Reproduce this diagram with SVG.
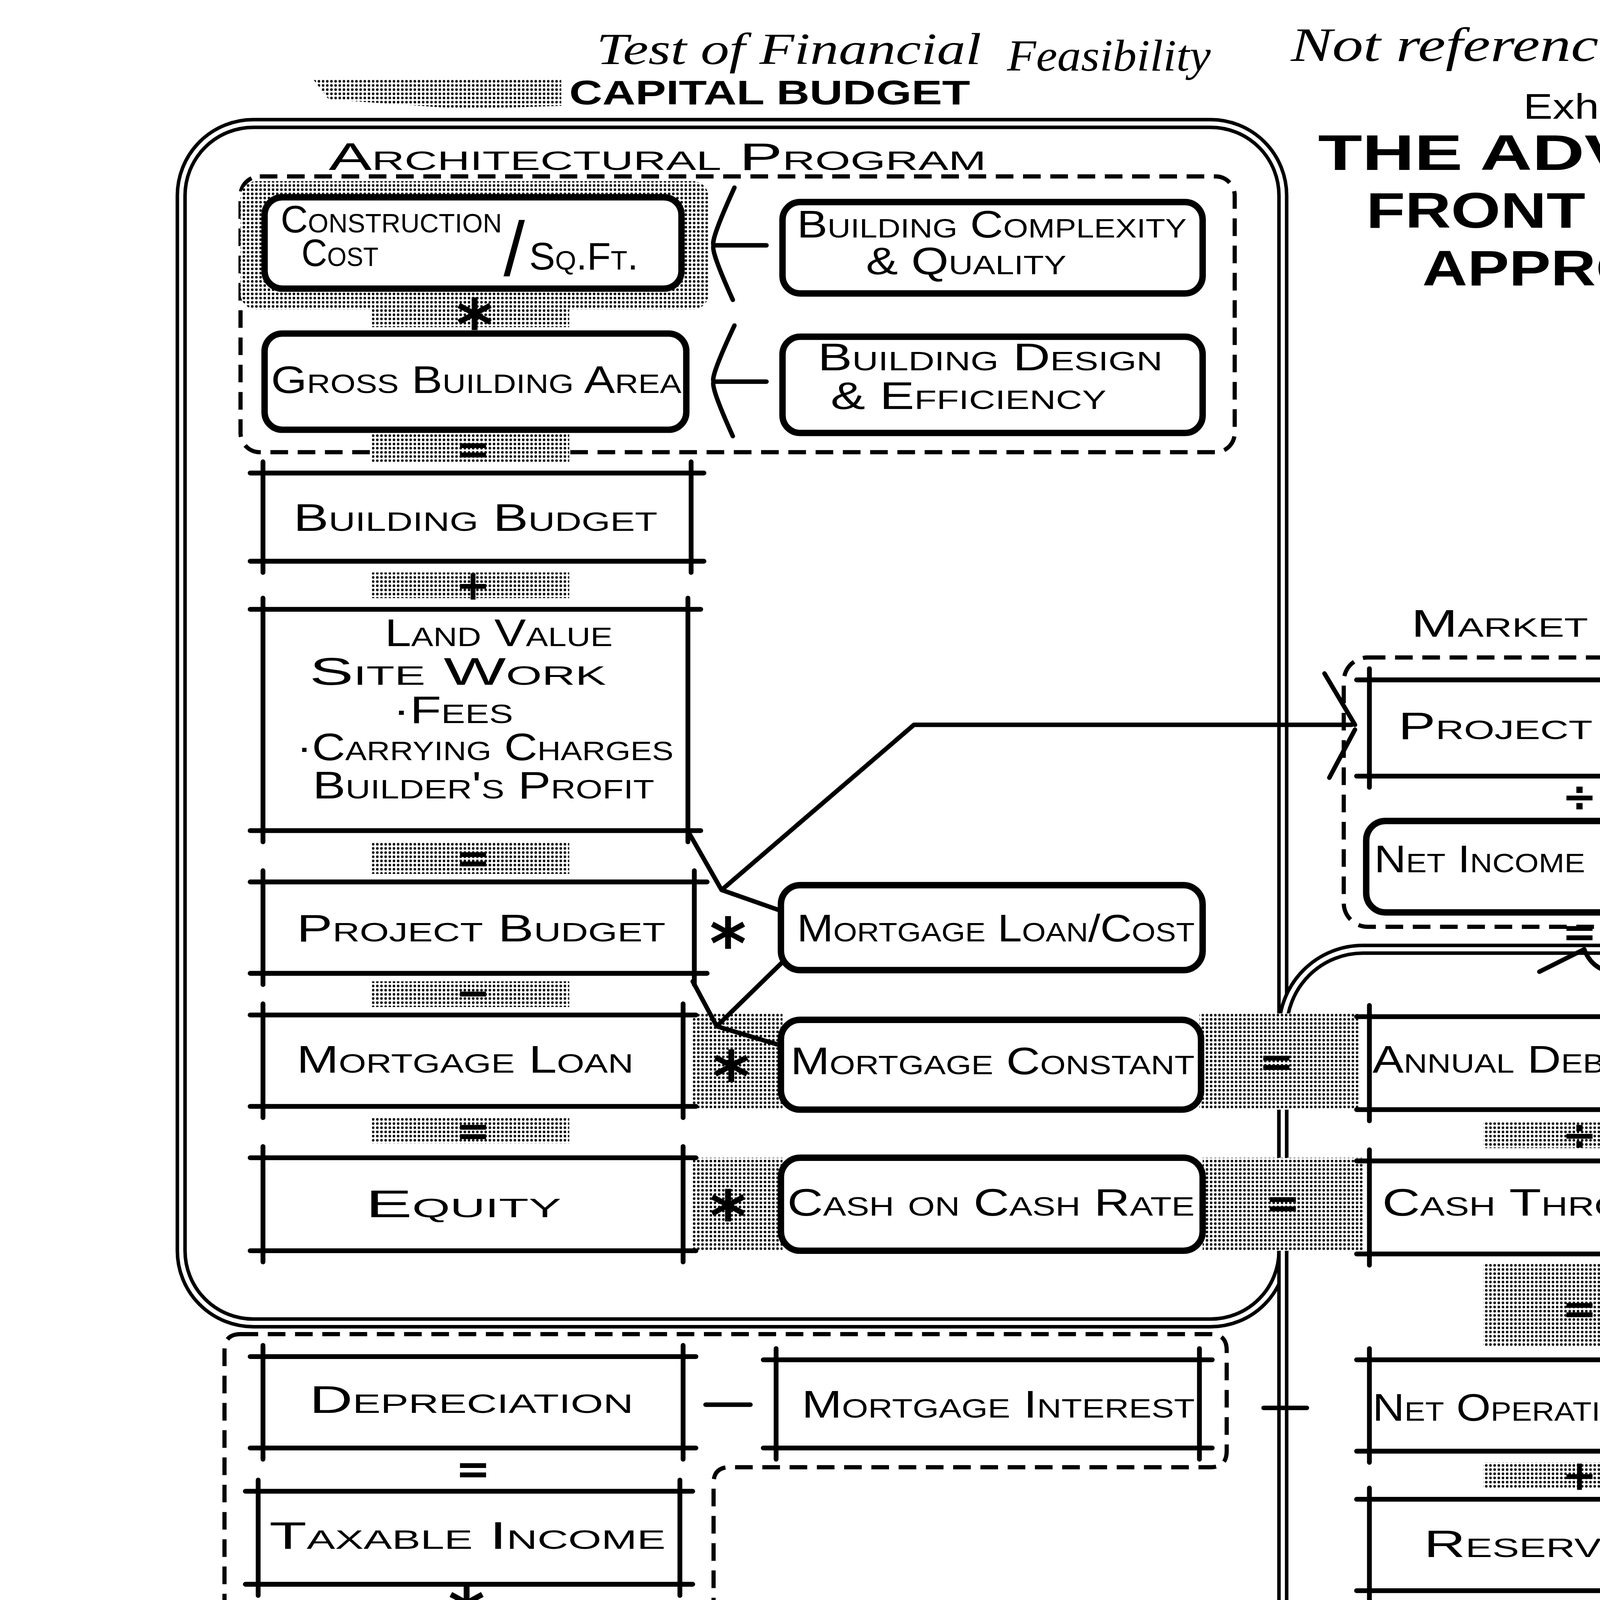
<svg xmlns="http://www.w3.org/2000/svg" width="4992" height="6467" viewBox="0 0 4992 6467">
<defs>
<pattern id="tone" width="2.6" height="2.6" patternUnits="userSpaceOnUse">
<rect width="2.6" height="2.6" fill="#fff"/>
<circle cx="1.3" cy="1.3" r="0.8" fill="#000"/>
</pattern>
<style>
.tx{font-family:"Liberation Sans",Arial,sans-serif;font-variant:small-caps;font-size:24px;fill:#000}
.hw{font-family:"Liberation Serif","Times New Roman",serif;font-style:italic;fill:#000}
.bd{font-family:"Liberation Sans",Arial,sans-serif;font-weight:bold;fill:#000}
.op{font-family:"DejaVu Sans",sans-serif;font-size:26px;font-weight:bold;fill:#000;text-anchor:middle}
.ast{font-family:"DejaVu Sans",sans-serif;font-size:44px;font-weight:bold;fill:#000;text-anchor:middle}
.rb{fill:#fff;stroke:#000;stroke-width:4}
.rt{fill:#fff;stroke:#000;stroke-width:3}
.dl{fill:none;stroke:#000;stroke-width:3;stroke-linecap:round}
.ln{fill:none;stroke:#000;stroke-width:2.8;stroke-linecap:round;stroke-linejoin:round}
.dash{fill:none;stroke:#000;stroke-width:2.6;stroke-dasharray:11 6}
.o1{fill:none;stroke:#000;stroke-width:7}
.o2{fill:none;stroke:#fff;stroke-width:2.6}
.tone{fill:url(#tone)}
</style>
</defs>
<rect width="4992" height="6467" fill="#fff"/>
<g transform="scale(4.105)">
<g id="frames">
<rect class="o1" x="113" y="77" width="687" height="748" rx="45"/>
<rect class="o2" x="113" y="77" width="687" height="748" rx="45"/>
<rect class="o1" x="800" y="592" width="363" height="905" rx="50"/>
<rect class="o2" x="800" y="592" width="363" height="905" rx="50"/>
<rect class="dash" x="150" y="110" width="620" height="172" rx="12"/>
<rect class="dash" x="838" y="410" width="297" height="168" rx="15"/>
<rect class="dash" x="835" y="1292" width="297" height="170" rx="15"/>
<path class="dash" d="M150,832 H755 Q765,832 765,842 V905 Q765,915 755,915 H455 Q445,915 445,925 V1325 Q445,1337 433,1337 H150 Q140,1337 140,1325 V842 Q140,832 150,832 Z"/>
</g>
<g id="patches">
<polygon class="tone" points="195,49 350,49 350,66 290,68 205,62"/>
<rect class="tone" x="150" y="113" width="292" height="80" rx="10"/>
<rect class="tone" x="232" y="186" width="123" height="18"/>
<rect class="tone" x="232" y="270" width="123" height="18"/>
<rect class="tone" x="232" y="357" width="123" height="16"/>
<rect class="tone" x="232" y="525" width="123" height="20"/>
<rect class="tone" x="232" y="612" width="123" height="16"/>
<rect class="tone" x="232" y="697" width="123" height="16"/>
<rect class="tone" x="432" y="632" width="56" height="60"/>
<rect class="tone" x="748" y="632" width="100" height="60"/>
<rect class="tone" x="432" y="722" width="56" height="58"/>
<rect class="tone" x="750" y="722" width="100" height="58"/>
<rect class="tone" x="925" y="700" width="115" height="16"/>
<rect class="tone" x="925" y="788" width="115" height="52"/>
<rect class="tone" x="925" y="912" width="115" height="16"/>
<rect class="tone" x="925" y="1000" width="115" height="15"/>
<rect class="tone" x="925" y="1080" width="115" height="15"/>
<rect class="tone" x="925" y="1164" width="115" height="16"/>
<rect class="tone" x="925" y="1252" width="115" height="38"/>
<rect class="tone" x="935" y="1367" width="120" height="13"/>
<rect class="tone" x="838" y="1380" width="292" height="82" rx="10"/>
</g>
<g id="connectors">
<path class="ln" d="M458,117 Q443,150 445,153 Q443,156 457,187 M446,153 H478"/>
<path class="ln" d="M458,203 Q443,235 445,238 Q443,241 457,272 M446,238 H478"/>
<path class="ln" d="M430,520 L450,555 L487,568 M450,555 L570,452 H843"/>
<path class="ln" d="M826,420 L845,452 M829,485 L845,455"/>
<path class="ln" d="M432,612 L447,640 L487,652 M490,598 L447,640"/>
<path class="ln" d="M440,876 H468"/>
<path class="ln" d="M788,878 H815"/>
<path class="ln" d="M960,606 L988,592 Q993,606 1010,607 L1118,610 Q1150,614 1150,645 V855 Q1148,862 1136,872 L1130,880 L1144,900"/>
</g>
<g id="headings">
<text class="hw" x="372" y="40" font-size="28" textLength="240" lengthAdjust="spacingAndGlyphs">Test of Financial</text>
<text class="hw" x="628" y="44" font-size="28" textLength="127" lengthAdjust="spacingAndGlyphs">Feasibility</text>
<text class="hw" x="805" y="38" font-size="30" textLength="355" lengthAdjust="spacingAndGlyphs">Not referenced directly</text>
<text class="hw" x="1070" y="56" font-size="18" textLength="125" lengthAdjust="spacingAndGlyphs">in lecture.</text>
<text class="hw" x="1127" y="76" font-size="17" textLength="58" lengthAdjust="spacingAndGlyphs">notes</text>
<text class="bd" x="355" y="65" font-size="21" textLength="250" lengthAdjust="spacingAndGlyphs">CAPITAL BUDGET</text>
<text x="950" y="74" font-family="Liberation Sans Narrow,Liberation Sans,sans-serif" font-size="22" textLength="105" lengthAdjust="spacingAndGlyphs">Exhibit 1</text>
<text class="bd" x="822" y="106" font-size="31" textLength="353" lengthAdjust="spacingAndGlyphs">THE  ADVANCED</text>
<text class="bd" x="852" y="142" font-size="31" textLength="291" lengthAdjust="spacingAndGlyphs">FRONT - DOOR</text>
<text class="bd" x="887" y="178" font-size="31" textLength="223" lengthAdjust="spacingAndGlyphs">APPROACH</text>
<text x="1128" y="178" font-family="Liberation Sans,sans-serif" font-size="30">(</text>
<text class="tx" x="205" y="106" font-size="27" textLength="410" lengthAdjust="spacingAndGlyphs">Architectural Program</text>
<text class="tx" x="880" y="397" font-size="27" textLength="213" lengthAdjust="spacingAndGlyphs">Market Check</text>
<text class="tx" x="865" y="1484" font-size="20" textLength="215" lengthAdjust="spacingAndGlyphs">Market Target</text>
<text class="bd" x="815" y="1528" font-size="20" textLength="302" lengthAdjust="spacingAndGlyphs">OPERATING BUDGET</text>
<text class="tx" x="175" y="1369" font-size="25" textLength="210" lengthAdjust="spacingAndGlyphs">Tax Subsidy</text>
<text class="tx" transform="translate(1146,845) rotate(-90)" x="0" y="0" font-size="20" textLength="175" lengthAdjust="spacingAndGlyphs">Check: Must Be ≥</text>
</g>
<g id="n-construction">
<rect class="rb" x="165" y="123" width="260" height="57" rx="11"/>
<text class="tx" x="175" y="145" font-size="17" textLength="138" lengthAdjust="spacingAndGlyphs">Construction</text>
<text class="tx" x="188" y="166" font-size="17" textLength="48" lengthAdjust="spacingAndGlyphs">Cost</text>
<text x="314" y="172" font-family="Liberation Sans,sans-serif" font-size="48">/</text>
<text class="tx" x="330" y="168" font-size="23" textLength="68" lengthAdjust="spacingAndGlyphs">Sq.Ft.</text>
</g>
<g id="n-complexity">
<rect class="rb" x="488" y="126" width="262" height="57" rx="11"/>
<text class="tx" x="497" y="148" font-size="19" textLength="243" lengthAdjust="spacingAndGlyphs">Building Complexity</text>
<text class="tx" x="540" y="171" font-size="19" textLength="125" lengthAdjust="spacingAndGlyphs">&amp; Quality</text>
</g>
<g id="n-gba">
<rect class="rb" x="165" y="208" width="263" height="60" rx="11"/>
<text class="tx" x="169" y="245" font-size="22" textLength="256" lengthAdjust="spacingAndGlyphs">Gross Building Area</text>
</g>
<g id="n-design">
<rect class="rb" x="488" y="210" width="262" height="60" rx="11"/>
<text class="tx" x="510" y="231" font-size="19" textLength="215" lengthAdjust="spacingAndGlyphs">Building Design</text>
<text class="tx" x="518" y="255" font-size="19" textLength="172" lengthAdjust="spacingAndGlyphs">&amp; Efficiency</text>
</g>
<g id="n-building-budget">
<path class="dl" d="M156,295 H439 M156,350 H439 M164,288 V357 M431,288 V357"/>
<text class="tx" x="183" y="331" font-size="25" textLength="227" lengthAdjust="spacingAndGlyphs">Building Budget</text>
</g>
<g id="n-land">
<path class="dl" d="M156,380 H437 M156,518 H437 M164,373 V525 M429,373 V525"/>
<text class="tx" x="240" y="403" font-size="21" textLength="142" lengthAdjust="spacingAndGlyphs">Land Value</text>
<text class="tx" x="193" y="427" font-size="21" textLength="185" lengthAdjust="spacingAndGlyphs">Site Work</text>
<text class="tx" x="245" y="451" font-size="21" textLength="75" lengthAdjust="spacingAndGlyphs">·Fees</text>
<text class="tx" x="185" y="474" font-size="21" textLength="235" lengthAdjust="spacingAndGlyphs">·Carrying Charges</text>
<text class="tx" x="195" y="498" font-size="21" textLength="213" lengthAdjust="spacingAndGlyphs">Builder's Profit</text>
</g>
<g id="n-project-budget">
<path class="dl" d="M156,550 H441 M156,607 H441 M164,543 V614 M433,543 V614"/>
<text class="tx" x="185" y="587" font-size="25" textLength="230" lengthAdjust="spacingAndGlyphs">Project Budget</text>
</g>
<g id="n-mortgage-loan">
<path class="dl" d="M156,633 H434 M156,690 H434 M164,626 V697 M426,626 V697"/>
<text class="tx" x="185" y="669" font-size="25" textLength="210" lengthAdjust="spacingAndGlyphs">Mortgage Loan</text>
</g>
<g id="n-equity">
<path class="dl" d="M156,722 H434 M156,780 H434 M164,715 V787 M426,715 V787"/>
<text class="tx" x="228" y="759" font-size="25" textLength="122" lengthAdjust="spacingAndGlyphs">Equity</text>
</g>
<g id="n-loan-cost">
<rect class="rb" x="487" y="552" width="263" height="53" rx="12"/>
<text class="tx" x="497" y="587" font-size="21" textLength="248" lengthAdjust="spacingAndGlyphs">Mortgage Loan/Cost</text>
</g>
<g id="n-constant">
<rect class="rb" x="487" y="636" width="262" height="56" rx="12"/>
<text class="tx" x="493" y="670" font-size="23" textLength="252" lengthAdjust="spacingAndGlyphs">Mortgage Constant</text>
</g>
<g id="n-cash-rate">
<rect class="rb" x="487" y="722" width="263" height="58" rx="12"/>
<text class="tx" x="491" y="758" font-size="23" textLength="254" lengthAdjust="spacingAndGlyphs">Cash on Cash Rate</text>
</g>
<g id="n-project-value">
<path class="dl" d="M846,424 H1126 M846,484 H1126 M854,417 V491 M1118,417 V491"/>
<text class="tx" x="872" y="461" font-size="25" textLength="218" lengthAdjust="spacingAndGlyphs">Project Value</text>
</g>
<g id="n-multiplier">
<rect class="rb" x="852" y="512" width="268" height="57" rx="12"/>
<text class="tx" x="857" y="544" font-size="21" textLength="258" lengthAdjust="spacingAndGlyphs">Net Income Multiplier</text>
</g>
<g id="n-debt-service">
<path class="dl" d="M846,634 H1126 M846,692 H1126 M854,627 V699 M1118,627 V699"/>
<text class="tx" x="856" y="669" font-size="22" textLength="260" lengthAdjust="spacingAndGlyphs">Annual Debt Service</text>
</g>
<g id="n-cash-throw-off">
<path class="dl" d="M846,724 H1126 M846,782 H1126 M854,717 V789 M1118,717 V789"/>
<text class="tx" x="862" y="758" font-size="23" textLength="236" lengthAdjust="spacingAndGlyphs">Cash Throw-Off</text>
</g>
<g id="n-noi">
<path class="dl" d="M846,848 H1124 M846,905 H1124 M854,841 V912 M1116,841 V912"/>
<text class="tx" x="856" y="886" font-size="21" textLength="258" lengthAdjust="spacingAndGlyphs">Net Operating Income</text>
</g>
<g id="n-reserves">
<path class="dl" d="M846,935 H1124 M846,992 H1124 M854,928 V999 M1116,928 V999"/>
<text class="tx" x="888" y="971" font-size="23" textLength="144" lengthAdjust="spacingAndGlyphs">Reserves</text>
</g>
<g id="n-taxes">
<path class="dl" d="M846,1020 H1124 M846,1075 H1124 M854,1013 V1082 M1116,1013 V1082"/>
<text class="tx" x="867" y="1043" font-size="19" textLength="238" lengthAdjust="spacingAndGlyphs">Real Estate Taxes</text>
<text class="tx" x="981" y="1054" font-size="9">&amp;</text>
<text class="tx" x="862" y="1070" font-size="19" textLength="243" lengthAdjust="spacingAndGlyphs">Operating Expenses</text>
</g>
<g id="n-vacancy">
<path class="dl" d="M846,1102 H1124 M846,1160 H1124 M854,1095 V1167 M1116,1095 V1167"/>
<text class="tx" x="905" y="1125" font-size="21" textLength="135" lengthAdjust="spacingAndGlyphs">Vacancy &amp;</text>
<text class="tx" x="880" y="1151" font-size="23" textLength="175" lengthAdjust="spacingAndGlyphs">Bad Debt</text>
</g>
<g id="n-pgi">
<path class="dl" d="M846,1188 H1124 M846,1245 H1124 M854,1181 V1252 M1116,1181 V1252"/>
<text class="tx" x="903" y="1213" font-size="21" textLength="127" lengthAdjust="spacingAndGlyphs">Potential</text>
<text class="tx" x="865" y="1237" font-size="21" textLength="225" lengthAdjust="spacingAndGlyphs">Gross Income</text>
</g>
<g id="n-nla">
<rect class="rb" x="850" y="1305" width="265" height="57" rx="12"/>
<text class="tx" x="858" y="1341" font-size="21" textLength="247" lengthAdjust="spacingAndGlyphs">Net Leaseable Area</text>
</g>
<g id="n-rent">
<rect class="rb" x="848" y="1392" width="264" height="56" rx="12"/>
<text class="tx" x="873" y="1429" font-size="27" textLength="197" lengthAdjust="spacingAndGlyphs">Rent / Sq.Ft.</text>
</g>
<g id="n-depreciation">
<path class="dl" d="M156,846 H434 M156,903 H434 M164,839 V910 M426,839 V910"/>
<text class="tx" x="193" y="881" font-size="23" textLength="202" lengthAdjust="spacingAndGlyphs">Depreciation</text>
</g>
<g id="n-interest">
<path class="dl" d="M476,848 H756 M476,903 H756 M484,841 V910 M748,841 V910"/>
<text class="tx" x="500" y="884" font-size="22" textLength="245" lengthAdjust="spacingAndGlyphs">Mortgage Interest</text>
</g>
<g id="n-taxable">
<path class="dl" d="M153,930 H432 M153,988 H432 M161,923 V995 M424,923 V995"/>
<text class="tx" x="168" y="966" font-size="23" textLength="247" lengthAdjust="spacingAndGlyphs">Taxable Income</text>
</g>
<g id="n-tax-rate">
<rect class="rt" x="155" y="1015" width="265" height="56" rx="12"/>
<text class="tx" x="203" y="1052" font-size="25" textLength="162" lengthAdjust="spacingAndGlyphs">Tax Rate</text>
</g>
<g id="n-liability">
<path class="dl" d="M149,1100 H429 M149,1160 H429 M157,1093 V1167 M421,1093 V1167"/>
<text class="tx" x="165" y="1123" font-size="22" textLength="225" lengthAdjust="spacingAndGlyphs">-Tax Liability</text>
<text class="tx" x="168" y="1149" font-size="22" textLength="207" lengthAdjust="spacingAndGlyphs">+ Tax Credit</text>
</g>
<g id="n-tax-cash">
<path class="dl" d="M149,1183 H429 M149,1240 H429 M157,1176 V1247 M421,1176 V1247"/>
<text class="tx" x="165" y="1221" font-size="23" textLength="243" lengthAdjust="spacingAndGlyphs">Cash Throw-Off</text>
</g>
<g id="n-spendable">
<path class="dl" d="M149,1270 H429 M149,1328 H429 M157,1263 V1335 M421,1263 V1335"/>
<text class="tx" x="172" y="1292" font-size="21" textLength="233" lengthAdjust="spacingAndGlyphs">Spendable Cash</text>
<text class="tx" x="195" y="1317" font-size="21" textLength="190" lengthAdjust="spacingAndGlyphs">After Taxes</text>
</g>
<g id="operators">
<text class="ast" x="296" y="218" font-size="36">*</text>
<text class="op" x="295" y="289">=</text>
<text class="op" x="295" y="374">+</text>
<text class="op" x="295" y="544">=</text>
<text class="op" x="295" y="628">−</text>
<text class="op" x="295" y="714">=</text>
<text class="ast" x="454" y="604">*</text>
<text class="ast" x="456" y="687">*</text>
<text class="ast" x="454" y="774">*</text>
<text class="op" x="796" y="671" font-size="32">=</text>
<text class="op" x="800" y="759" font-size="32">=</text>
<text class="op" x="985" y="506">÷</text>
<text class="op" x="985" y="590">=</text>
<text class="op" x="985" y="717">÷</text>
<text class="op" x="985" y="825" font-size="30">=</text>
<text class="op" x="985" y="929">+</text>
<text class="op" x="985" y="1016">+</text>
<text class="op" x="985" y="1096">+</text>
<text class="op" x="985" y="1181">=</text>
<text class="op" x="985" y="1283" font-size="30">÷</text>
<text class="op" x="985" y="1384">=</text>
<text class="op" x="295" y="925">=</text>
<text class="ast" x="291" y="1022" font-size="38">*</text>
<text class="op" x="290" y="1094">=</text>
<text class="op" x="290" y="1180">+</text>
<text class="op" x="290" y="1262">=</text>
</g>
</g>
</svg>
